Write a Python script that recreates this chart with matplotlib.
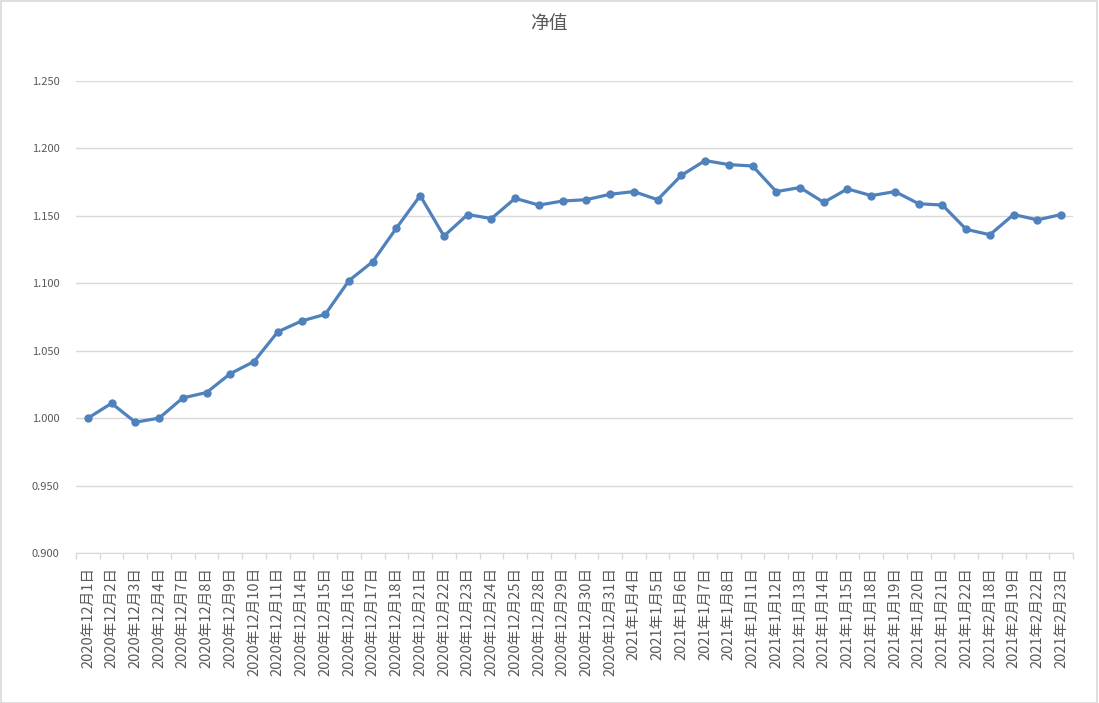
import matplotlib
matplotlib.use('Agg')
import matplotlib.pyplot as plt
from matplotlib.patches import Rectangle
import numpy as np

plt.rcParams['font.family'] = ['Noto Sans CJK SC', 'DejaVu Sans']

# data
dates = ['2020年12月1日', '2020年12月2日', '2020年12月3日', '2020年12月4日',
         '2020年12月7日', '2020年12月8日', '2020年12月9日', '2020年12月10日',
         '2020年12月11日', '2020年12月14日', '2020年12月15日', '2020年12月16日',
         '2020年12月17日', '2020年12月18日', '2020年12月21日', '2020年12月22日',
         '2020年12月23日', '2020年12月24日', '2020年12月25日', '2020年12月28日',
         '2020年12月29日', '2020年12月30日', '2020年12月31日', '2021年1月4日',
         '2021年1月5日', '2021年1月6日', '2021年1月7日', '2021年1月8日',
         '2021年1月11日', '2021年1月12日', '2021年1月13日', '2021年1月14日',
         '2021年1月15日', '2021年1月18日', '2021年1月19日', '2021年1月20日',
         '2021年1月21日', '2021年1月22日', '2021年2月18日', '2021年2月19日',
         '2021年2月22日', '2021年2月23日']
nav = [1.000, 1.011, 0.997, 1.000, 1.015, 1.019, 1.033, 1.042,
       1.064, 1.072, 1.077, 1.102, 1.116, 1.141, 1.165, 1.135,
       1.151, 1.148, 1.163, 1.158, 1.161, 1.162, 1.166, 1.168,
       1.162, 1.180, 1.191, 1.188, 1.187, 1.168, 1.171, 1.160,
       1.170, 1.165, 1.168, 1.159, 1.158, 1.140, 1.136, 1.151,
       1.147, 1.151]
yticks = [0.900, 0.950, 1.000, 1.050, 1.100, 1.150, 1.200, 1.250]

fig = plt.figure(figsize=(10.99, 7.03), dpi=100)
ax = fig.add_axes([76 / 1099, 150 / 703, 997 / 1099, 472 / 703])

# outer border
fig.patches.append(Rectangle((0.0005, 0.0007), 0.998, 0.998, transform=fig.transFigure,
                             fill=False, edgecolor='#d9d9d9', linewidth=1.2))

x = np.arange(len(dates))
ax.plot(x, nav, color='#4f81bd', linewidth=2.3, marker='o', markersize=5,
        zorder=3)

ax.set_xlim(-0.5, len(dates) - 0.5)
ax.set_ylim(0.9, 1.25)
ax.set_yticks(yticks)
ax.set_yticklabels(['%.3f' % v for v in yticks])
ax.grid(axis='y', color='#d9d9d9', linewidth=1)
ax.set_axisbelow(True)

ax.set_xticks(x)
ax.set_xticklabels(dates, rotation=90)
ax.set_xticks(np.arange(len(dates) + 1) - 0.5, minor=True)
ax.tick_params(axis='x', which='major', length=0, pad=10, labelsize=10.5,
               labelcolor='#595959')
ax.tick_params(axis='x', which='minor', length=4, color='#d9d9d9', width=1)
ax.tick_params(axis='y', length=0, pad=12, labelsize=8, labelcolor='#595959')

for s in ['top', 'right', 'left']:
    ax.spines[s].set_visible(False)
ax.spines['bottom'].set_color('#d9d9d9')

fig.text(549 / 1099, 1 - 23 / 703, '净值', ha='center', va='center',
         fontsize=13.5, color='#595959')

fig.savefig('out.png', dpi=100)
